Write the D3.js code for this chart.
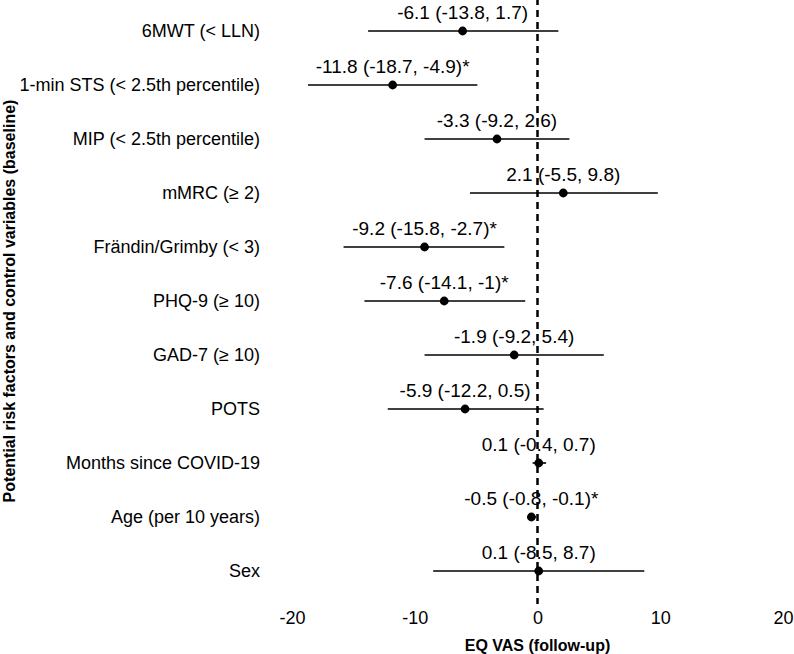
<!DOCTYPE html>
<html>
<head>
<meta charset="utf-8">
<script src="https://cdn.jsdelivr.net/npm/d3@7"></script>
<style>
  body { margin: 0; background: #fff; }
  svg { display: block; }
</style>
</head>
<body>
<svg class="forestSVG" width="794" height="654"></svg>
<script>
// rows, top to bottom
const factors = [
  '6MWT (< LLN)',
  '1-min STS (< 2.5th percentile)',
  'MIP (< 2.5th percentile)',
  'mMRC (\u2265 2)',
  'Fr\u00e4ndin/Grimby (< 3)',
  'PHQ-9 (\u2265 10)',
  'GAD-7 (\u2265 10)',
  'POTS',
  'Months since COVID-19',
  'Age (per 10 years)',
  'Sex'
];
const estimate = [-6.1, -11.8, -3.3, 2.1, -9.2, -7.6, -1.9, -5.9, 0.1, -0.5, 0.1];
const lower    = [-13.8, -18.7, -9.2, -5.5, -15.8, -14.1, -9.2, -12.2, -0.4, -0.8, -8.5];
const upper    = [1.7, -4.9, 2.6, 9.8, -2.7, -1, 5.4, 0.5, 0.7, -0.1, 8.7];
const signif   = [false, true, false, false, true, true, false, false, false, true, false];
const xTicks   = [-20, -10, 0, 10, 20];

const rows = factors.map((f, i) => ({
  factor: f,
  est: estimate[i],
  lo: lower[i],
  hi: upper[i],
  label: `${estimate[i]} (${lower[i]}, ${upper[i]})${signif[i] ? '*' : ''}`
}));

const font = "Arial, 'Liberation Sans', sans-serif";
const svg = d3.select('svg.forestSVG');

const x = d3.scaleLinear().domain([-20, 20]).range([292, 783]);
const y = d3.scalePoint().domain(factors).range([-1.4, 603.4]).padding(0.6);

// reference line at zero
svg.append('line')
  .attr('x1', x(0)).attr('x2', x(0))
  .attr('y1', -2).attr('y2', 604)
  .style('stroke', '#000')
  .style('stroke-width', 2.5)
  .style('stroke-dasharray', '7,5');

const g = svg.append('g').attr('class', 'rows');

// confidence intervals
g.selectAll('line.ci')
  .data(rows)
  .enter()
  .append('line')
  .attr('class', 'ci')
  .attr('x1', d => x(d.lo))
  .attr('x2', d => x(d.hi))
  .attr('y1', d => y(d.factor))
  .attr('y2', d => y(d.factor))
  .style('stroke', '#000')
  .style('stroke-width', 1.6);

g.selectAll('circle.pt')
  .data(rows)
  .enter()
  .append('circle')
  .attr('class', 'pt')
  .attr('cx', d => x(d.est))
  .attr('cy', d => y(d.factor))
  .attr('r', 4.4)
  .style('fill', '#000');

// estimate labels above the points
g.selectAll('text.est')
  .data(rows)
  .enter()
  .append('text')
  .attr('class', 'est')
  .attr('x', d => x(d.est))
  .attr('y', d => y(d.factor) - 12)
  .text(d => d.label)
  .style('text-anchor', 'middle')
  .style('font-family', font)
  .style('font-size', '19px')
  .style('fill', '#000');

// y axis labels
const yAxis = d3.axisLeft(y).tickSize(0).tickPadding(0);
svg.append('g')
  .attr('transform', 'translate(260,0)')
  .call(yAxis)
  .call(s => s.select('.domain').remove())
  .selectAll('text')
  .style('font-family', font)
  .style('font-size', '18px')
  .style('fill', '#000');

// x axis (plain hyphen for negatives, as in the original)
const xAxis = d3.axisBottom(x).tickValues(xTicks).tickFormat(d => String(d))
  .tickSize(0).tickPadding(0);
svg.append('g')
  .attr('transform', 'translate(0,611.5)')
  .call(xAxis)
  .call(s => s.select('.domain').remove())
  .selectAll('text')
  .style('font-family', font)
  .style('font-size', '18px')
  .style('fill', '#000');

svg.append('text')
  .text('EQ VAS (follow-up)')
  .attr('x', x(0))
  .attr('y', 651)
  .style('text-anchor', 'middle')
  .style('font-family', font)
  .style('font-weight', 'bold')
  .style('font-size', '16px');

svg.append('text')
  .text('Potential risk factors and control variables (baseline)')
  .attr('transform', `translate(15,${y(factors[5])}) rotate(-90)`)
  .style('text-anchor', 'middle')
  .style('font-family', font)
  .style('font-weight', 'bold')
  .style('font-size', '16px');
</script>
</body>
</html>
